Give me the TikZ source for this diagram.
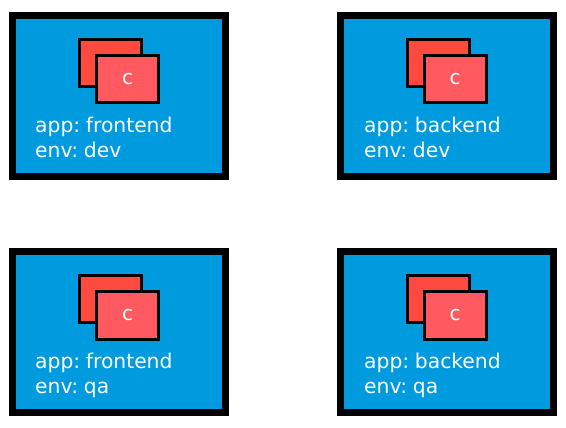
\documentclass[tikz,border=0pt]{standalone}
\usepackage{fontspec}
\setmainfont{DejaVu Sans}
\definecolor{podblue}{HTML}{009ADE}
\definecolor{backred}{HTML}{FF4A3F}
\definecolor{frontred}{HTML}{FF5A5F}
\tikzset{
  x=1pt,y=-1pt,
  podbox/.style={draw=black,line width=7pt,fill=podblue,minimum width=213pt,minimum height=161pt,inner sep=0pt,anchor=north west},
  backbox/.style={draw=black,line width=3pt,fill=backred,minimum width=62pt,minimum height=47pt,inner sep=0pt,anchor=north west},
  frontbox/.style={draw=black,line width=3pt,fill=frontred,minimum width=62pt,minimum height=47.5pt,inner sep=0pt,anchor=north west,text=white,font=\fontsize{20}{20}\selectfont},
  lbl/.style={text=white,anchor=base west,inner sep=0pt,font=\fontsize{20.3}{20.3}\selectfont}
}
\begin{document}
\begin{tikzpicture}
\useasboundingbox (0,0) rectangle (566,428);
\fill[white] (0,0) rectangle (566,428);
\foreach \n/\dx/\dy/\tx/\app/\env in {a/0/0/35/frontend/dev,b/327.5/0/364/backend/dev,c/0/236/35/frontend/qa,d/327.5/236/364/backend/qa}{
  \node[podbox] (pod\n) at (9+\dx,12+\dy) {};
  \node[backbox] (back\n) at (78+\dx,38+\dy) {};
  \node[frontbox] (front\n) at (95+\dx,54+\dy) {c};
  \node[lbl] (app\n) at (\tx,132.5+\dy) {app:\hspace{0.28em}\app};
  \node[lbl] (env\n) at (\tx,157.5+\dy) {env:\hspace{0.28em}\env};
}
\end{tikzpicture}
\end{document}
